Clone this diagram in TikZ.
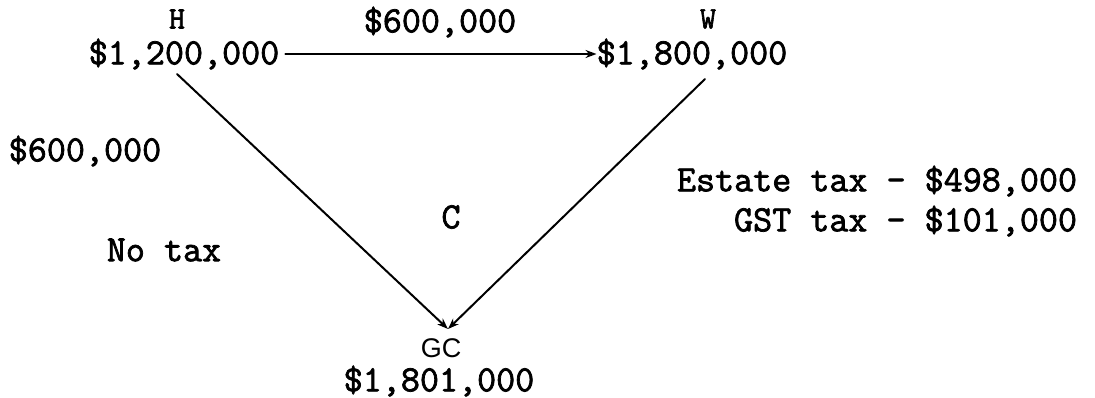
\documentclass[tikz,border=0pt]{standalone}
\usepackage{fontspec}
\newfontfamily\sansfont{Liberation Sans}
\newfontfamily\typer[FakeBold=2]{Latin Modern Mono}
\usetikzlibrary{arrows.meta}
\begin{document}
\begin{tikzpicture}[x=1pt,y=-1pt,line cap=round,line join=round,
  font=\typer\fontsize{37}{40}\selectfont,
  every node/.style={inner sep=0pt},
  tag/.style={font=\typer\fontsize{31}{33}\selectfont},
  flow/.style={line width=2pt,-{Stealth[length=11pt,width=8pt]}}]
  \useasboundingbox (0,0) rectangle (1095,398);
  % persons
  \node[tag] (hlab) at (177,19) {H};
  \node[tag] (wlab) at (708,19) {W};
  \node (h) at (184,54) {\$1,200,000};
  \node (w) at (692,54) {\$1,800,000};
  \node[font=\sansfont\fontsize{27}{29}\selectfont] (gc) at (441,348) {GC};
  \node (gcamt) at (439,381) {\$1,801,000};
  \node (c) at (451,217) {C};
  % amounts and taxes
  \node (gift) at (440,22) {\$600,000};
  \node (skip) at (85,151) {\$600,000};
  \node (notax) at (164,250) {No tax};
  \node[align=right] (tax) at (877,201) {Estate tax - \$498,000\\GST tax - \$101,000};
  % transfers
  \coordinate (hs) at (177,74);
  \coordinate (ws) at (705,79);
  \coordinate (tip) at (448,329);
  \draw[flow,shorten <=6pt] (h.east) -- (w.west);
  \draw[flow] (hs) -- (tip);
  \draw[flow] (ws) -- (tip);
\end{tikzpicture}
\end{document}
